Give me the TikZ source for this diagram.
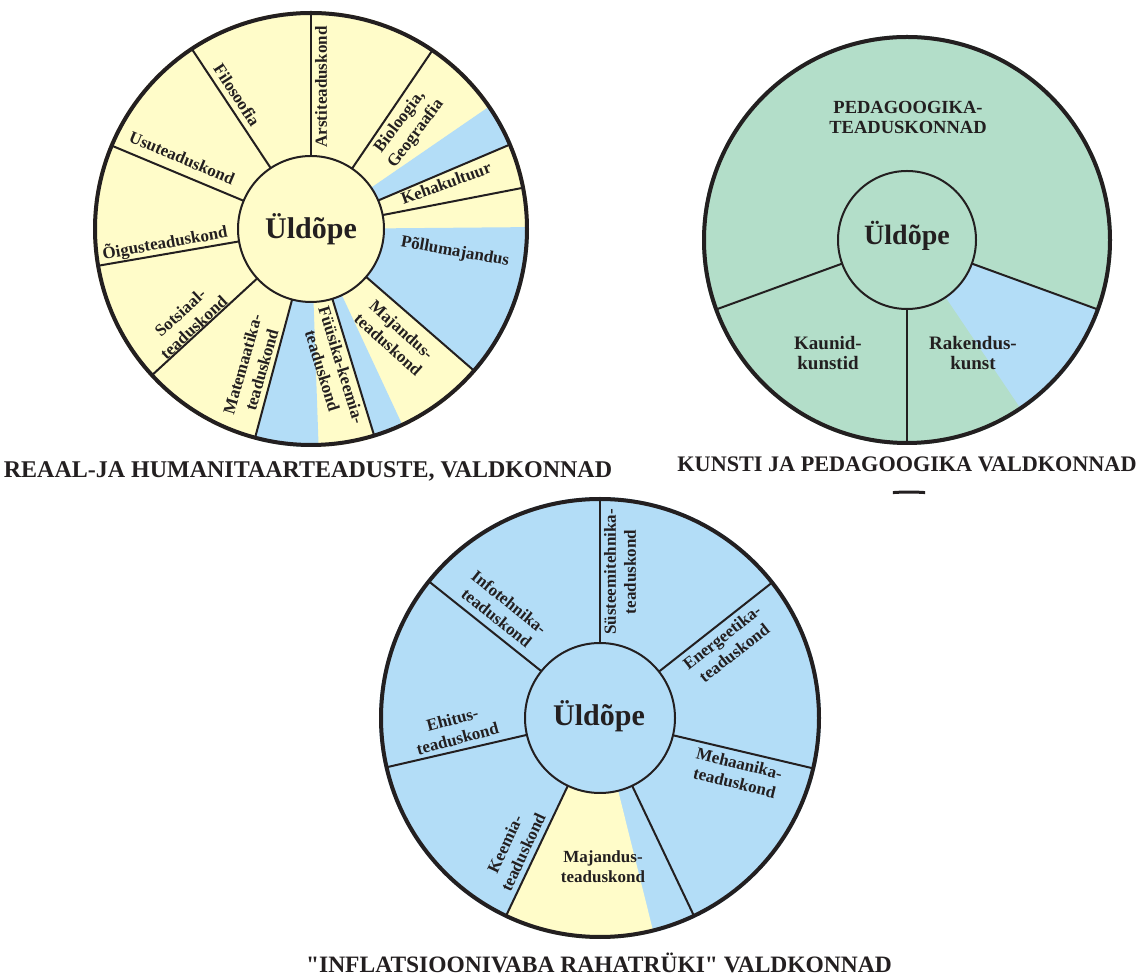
\documentclass[tikz,border=0pt]{standalone}
\usepackage{fontspec}
\setmainfont{Liberation Serif}
\newfontfamily\straightquotes{Liberation Serif}[Ligatures=TeXOff]
\definecolor{paleyellow}{RGB}{255,252,201}
\definecolor{paleblue}{RGB}{179,221,247}
\definecolor{palegreen}{RGB}{179,222,201}
\definecolor{ink}{RGB}{35,31,32}
% filled wedge: colour, centre, start angle, end angle, radius
\newcommand{\wedgefill}[5]{\fill[#1] (#2) -- ++(#3:#5) arc[start angle=#3, end angle=#4, radius=#5] -- cycle;}
\begin{document}
\begin{tikzpicture}[x=1pt,y=1pt,
  spoke/.style={draw=ink, line width=2pt},
  hub/.style={draw=ink, line width=2pt},
  rim/.style={draw=ink, line width=4pt},
  lbl/.style={font=\bfseries\fontsize{17}{20}\selectfont, text=ink, align=center, inner sep=0pt},
  lblbig/.style={font=\bfseries\fontsize{19}{20}\selectfont, text=ink, align=center, inner sep=0pt},
  hubtext/.style={font=\bfseries\fontsize{30}{32}\selectfont, text=ink, inner sep=0pt},
  caption/.style={text=ink, inner sep=0pt, anchor=base}]
\useasboundingbox (0,0) rectangle (1141,975);

% ---------- real and humanities fields ----------
\coordinate (c1) at (311,746);
\fill[paleyellow] (c1) circle[radius=218];
\wedgefill{paleblue}{c1}{23}{34.5}{218}
\wedgefill{paleblue}{c1}{-41}{0.5}{218}
\wedgefill{paleblue}{c1}{255}{272}{218}
\wedgefill{paleblue}{c1}{287}{295}{218}
\foreach \a in {11,23,55.8,90,123.5,157.3,189.8,222.6,255,287,319}
  \draw[spoke] ([shift={(\a:73)}]c1) -- ([shift={(\a:217)}]c1);
\draw[hub, fill=paleyellow] (c1) circle[radius=73];
\draw[rim] (c1) circle[radius=216];
\node[hubtext] (u1) at (c1) {Üldõpe};
\node[lbl, rotate=90]  (arst) at (321,888) {Arstiteaduskond};
\node[lbl, rotate=-57] (filo) at (237,880) {Filosoofia};
\node[lbl, rotate=-23] (usu)  at (182,817) {Usuteaduskond};
\node[lbl, rotate=10]  (oig)  at (165,732) {Õigusteaduskond};
\node[lbl, rotate=42.6] (sots) at (187,655) {Sotsiaal-\\teaduskond};
\node[lbl, rotate=74]  (mat)  at (252,608) {Matemaatika-\\teaduskond};
\node[lbl, rotate=-73] (fyys) at (332,607) {Füüsika-keemia-\\teaduskond};
\node[lbl, rotate=-42] (maj1) at (395,638) {Majandus-\\teaduskond};
\node[lbl, rotate=-10] (pold) at (455,723) {Põllumajandus};
\node[lbl, rotate=20]  (keha) at (446,792) {Kehakultuur};
\node[lbl, rotate=53]  (bio)  at (408,847) {Bioloogia,\\Geograafia};
\node[caption, font=\bfseries\fontsize{24}{26}\selectfont] (t1) at (308,497) {REAAL-JA HUMANITAARTEADUSTE, VALDKONNAD};

% ---------- arts and pedagogy fields ----------
\coordinate (c2) at (907,735);
\fill[palegreen] (c2) circle[radius=205];
\wedgefill{paleblue}{c2}{304}{340}{205}
\foreach \a in {200,270,340}
  \draw[spoke] ([shift={(\a:69)}]c2) -- ([shift={(\a:204)}]c2);
\draw[hub, fill=palegreen] (c2) circle[radius=69];
\draw[rim] (c2) circle[radius=203];
\node[hubtext, font=\bfseries\fontsize{28}{30}\selectfont] (u2) at (907,739) {Üldõpe};
\node[lblbig, font=\bfseries\fontsize{18.5}{20}\selectfont] (ped) at (908,858) {PEDAGOOGIKA-\\TEADUSKONNAD};
\node[lblbig] (kaun) at (828,622) {Kaunid-\\kunstid};
\node[lblbig] (rak)  at (973,622) {Rakendus-\\kunst};
\node[caption, font=\bfseries\fontsize{22.2}{24}\selectfont] (t2) at (907,503) {KUNSTI JA PEDAGOOGIKA VALDKONNAD};
\draw[ink, line width=3pt] (909,263) ++(85.8:220) arc[start angle=85.8, end angle=94.2, radius=220];

% ---------- technology fields ----------
\coordinate (c3) at (600,257);
\fill[paleblue] (c3) circle[radius=221];
\wedgefill{paleyellow}{c3}{244.6}{284}{221}
\foreach \a in {38.2,90,141.4,193,244.6,295.4,346.7}
  \draw[spoke] ([shift={(\a:75)}]c3) -- ([shift={(\a:220)}]c3);
\draw[hub, fill=paleblue] (c3) circle[radius=75];
\draw[rim] (c3) circle[radius=219];
\node[hubtext] (u3) at (599,259) {Üldõpe};
\node[lbl, rotate=90]    (syst) at (620,403) {Süsteemitehnika-\\teaduskond};
\node[lbl, rotate=-38.6] (info) at (503,365) {Infotehnika-\\teaduskond};
\node[lbl, rotate=38]    (ener) at (728,330) {Energeetika-\\teaduskond};
\node[lbl, rotate=15]    (ehit) at (455,246) {Ehitus-\\teaduskond};
\node[lbl, rotate=-14]   (meh)  at (737,202) {Mehaanika-\\teaduskond};
\node[lbl, rotate=65]    (keem) at (514,127) {Keemia-\\teaduskond};
\node[lbl]               (maj3) at (603,108) {Majandus-\\teaduskond};
\node[caption, font=\straightquotes\bfseries\fontsize{23.5}{25}\selectfont] (t3) at (599,3) {"INFLATSIOONIVABA RAHATRÜKI" VALDKONNAD};
\end{tikzpicture}
\end{document}
